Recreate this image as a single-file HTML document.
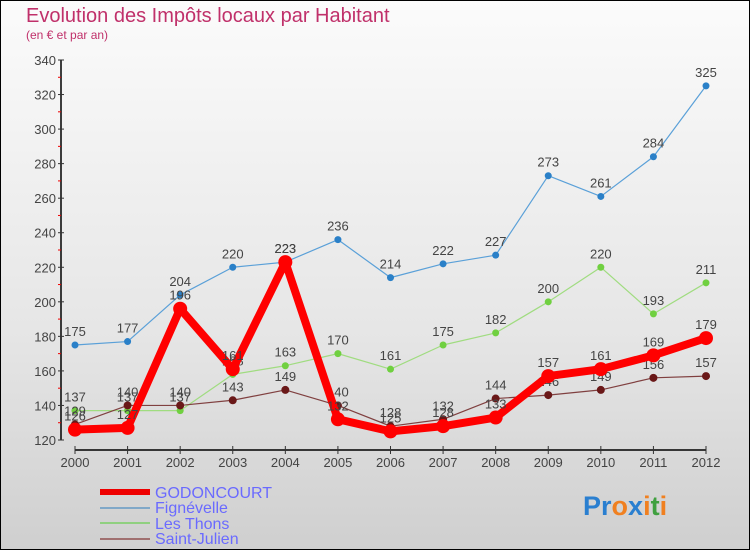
<!DOCTYPE html>
<html><head><meta charset="utf-8"><style>
body{margin:0;width:750px;height:550px;overflow:hidden}
svg{display:block;font-family:"Liberation Sans","DejaVu Sans",sans-serif}
</style></head><body>
<svg id="c" width="750" height="550">
<defs><linearGradient id="bg" x1="0" y1="0" x2="0" y2="1">
<stop offset="0" stop-color="#fbfbfb"/><stop offset="0.6" stop-color="#e6e6e6"/><stop offset="1" stop-color="#cfcfcf"/></linearGradient></defs>
<rect x="0.5" y="0.5" width="749" height="549" fill="url(#bg)" stroke="#000"/>
<text x="26" y="22" font-size="20" fill="#c0306a">Evolution des Impôts locaux par Habitant</text>
<text x="26" y="39" font-size="12" fill="#c0306a">(en € et par an)</text>
<g id="axes"></g><g id="series"></g>
<g>
<line x1="100" y1="492" x2="150" y2="492" stroke="#e00" stroke-width="6"/>
<text x="155" y="498" font-size="16" fill="#6a6aff">GODONCOURT</text>
<line x1="100" y1="508" x2="150" y2="508" stroke="#80a8c8" stroke-width="2"/>
<text x="155" y="513" font-size="16" fill="#6a6aff">Fignévelle</text>
<line x1="100" y1="523" x2="150" y2="523" stroke="#90d080" stroke-width="2"/>
<text x="155" y="529" font-size="16" fill="#6a6aff">Les Thons</text>
<line x1="100" y1="539" x2="150" y2="539" stroke="#a07070" stroke-width="2"/>
<text x="155" y="544" font-size="16" fill="#6a6aff">Saint-Julien</text>
</g>
<text x="583" y="515" font-size="27" font-weight="bold" fill="#2a7fd0">Pr<tspan fill="#f08020">o</tspan><tspan fill="#2a7fd0">x</tspan><tspan fill="#f08020">i</tspan><tspan fill="#40a040">t</tspan><tspan fill="#f08020">i</tspan></text>
</svg>
<script>
const years=[2000,2001,2002,2003,2004,2005,2006,2007,2008,2009,2010,2011,2012];
const godoncourt=[126,127,196,161,223,132,125,128,133,157,161,169,179];
const fignevelle=[175,177,204,220,223,236,214,222,227,273,261,284,325];
const lesThons=[137,137,137,158,163,170,161,175,182,200,220,193,211];
const saintJulien=[129,140,140,143,149,140,128,132,144,146,149,156,157];
const yTicks=[120,140,160,180,200,220,240,260,280,300,320,340];
const NS='http://www.w3.org/2000/svg';
const xS=i=>75+i*(706-75)/(years.length-1);
const yS=v=>440-(v-120)*(380/220);
function mk(t,a,p){const e=document.createElementNS(NS,t);for(const k in a)e.setAttribute(k,a[k]);p.appendChild(e);return e;}
const ax=document.getElementById('axes');
const ya=mk('line',{x1:61,y1:yS(340),x2:61,y2:yS(120),stroke:'#000','stroke-width':1.5},ax);


yTicks.forEach(v=>{
 mk('line',{x1:58,x2:64,y1:yS(v),y2:yS(v),stroke:'#333'},ax);
 if(v<340)mk('line',{x1:58,x2:61,y1:yS(v+10),y2:yS(v+10),stroke:'#e00'},ax);
 const t=mk('text',{x:56,y:yS(v)+5,'font-size':13,fill:'#444','text-anchor':'end'},ax);t.textContent=v;
 
 
});
const xa=mk('line',{x1:xS(0),x2:xS(12),y1:450,y2:450,stroke:'#000','stroke-width':1.5},ax);


years.forEach((y,i)=>{
 mk('line',{x1:xS(i),x2:xS(i),y1:446,y2:454,stroke:'#333'},ax);
 const t=mk('text',{x:xS(i),y:467,'font-size':13,fill:'#444','text-anchor':'middle'},ax);t.textContent=y;
 
 
});
const sg=document.getElementById('series');
function draw(vals,name,color,dot,w,r){
 const g=mk('g',{},sg);
 
 
 mk('polyline',{points:vals.map((v,i)=>xS(i)+','+yS(v)).join(' '),fill:'none',stroke:color,'stroke-width':w,'stroke-linejoin':'round'},g);
 vals.forEach((v,i)=>{
  const c=mk('circle',{cx:xS(i),cy:yS(v),r:r,fill:dot},g);
  
  
  const t=mk('text',{x:xS(i),y:yS(v)-9,'font-size':13,fill:'#444','text-anchor':'middle'},g);t.textContent=v;
  
  
 });
}
draw(fignevelle,'fignevelle','#5aa0d8','#2a80c8',1.2,3.5);
draw(lesThons,'les-thons','#a0dc80','#70d040',1.2,3.5);
draw(saintJulien,'saint-julien','#804040','#6a1818',1.2,4);
draw(godoncourt,'godoncourt','#f00','#f00',8,7);
</script>
</body></html>
